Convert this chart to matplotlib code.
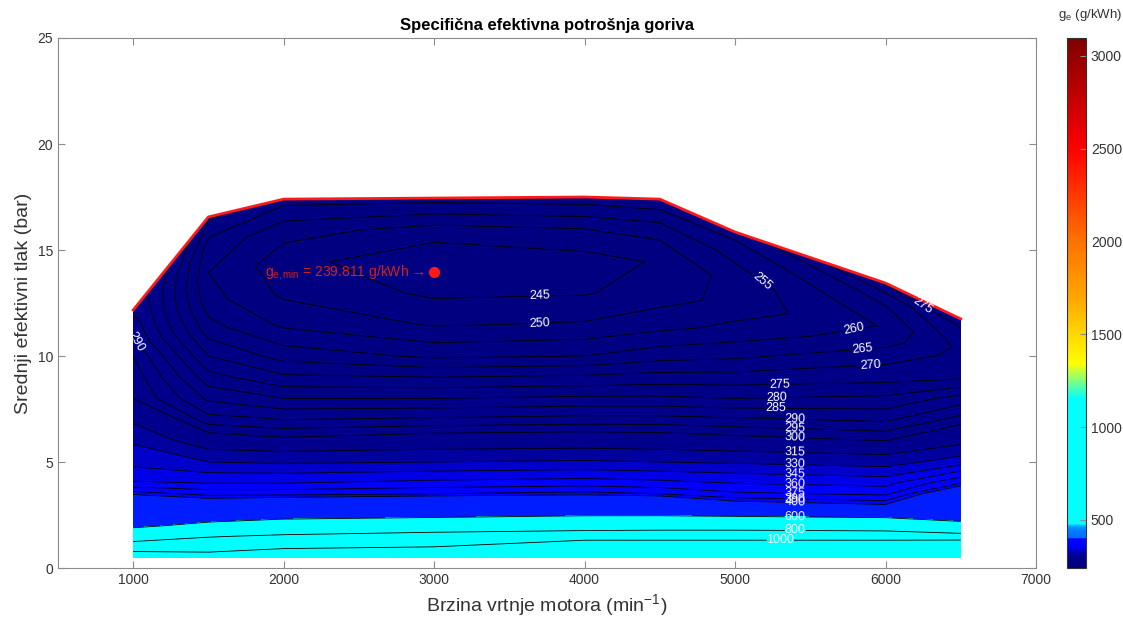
import numpy as np
import matplotlib.pyplot as plt
from matplotlib.colors import LinearSegmentedColormap, Normalize
from matplotlib.cm import ScalarMappable

plt.rcParams['font.family'] = ['Liberation Sans', 'DejaVu Sans']
plt.rcParams['mathtext.fontset'] = 'custom'
plt.rcParams['mathtext.rm'] = 'Liberation Sans'
plt.rcParams['mathtext.it'] = 'Liberation Sans:italic'

# brzine vrtnje (min^-1) i granica punog opterecenja (bar)
n = [1000, 1500, 2000, 3000, 4000, 4500, 5000, 6000, 6500]
pe_max = [12.17, 16.56, 17.4, 17.45, 17.5, 17.4, 15.85, 13.44, 11.75]

# redovi mreze: donji dio u baru, gornji kao udio izmedu 10 bar i pe_max
pe_donji = [0.5, 1, 1.5, 2, 2.5, 3, 3.5, 4, 5, 6, 7, 8, 9, 10]
udio_gornji = [0.2, 0.4, 0.6, 0.8, 1.0]

# specificna potrosnja ge (g/kWh) po stupcima brzine
ge_1000 = [1150, 880, 720, 570, 480, 430, 398, 362, 340, 328, 312, 300, 298, 295,
           292, 290, 288.5, 286, 283]
ge_1500 = [1100, 900, 790, 640, 520, 420, 385, 360, 330, 305, 292, 284, 277, 270,
           262, 257, 255, 258, 266]
ge_2000 = [1350, 930, 820, 680, 550, 430, 385, 360, 328, 302, 290, 280, 271, 263,
           254, 249, 247, 252, 262]
ge_3000 = [1900, 1000, 860, 700, 570, 440, 390, 365, 330, 305, 291, 280, 270, 259,
           249.5, 244, 240.5, 248, 262]
ge_4000 = [2400, 1200, 880, 730, 590, 450, 395, 368, 332, 306, 292, 281, 271, 260,
           250.5, 244.5, 243, 250, 263]
ge_4500 = [2600, 1200, 880, 740, 590, 440, 390, 365, 330, 305, 292, 281, 272, 263,
           253, 247.5, 245.5, 252, 264]
ge_5000 = [2800, 1200, 880, 740, 580, 410, 378, 360, 328, 303, 291, 280, 272, 264,
           257, 252, 252, 256, 262]
ge_6000 = [2900, 1200, 880, 720, 560, 400, 372, 355, 323, 300, 289, 281, 273, 268,
           263, 260.5, 263.5, 267, 276]
ge_6500 = [3097, 1250, 860, 640, 540, 480, 430, 390, 338, 310, 297, 287, 274, 271,
           271, 272.5, 274, 275.5, 278]

razine = [240, 245, 250, 255, 260, 265, 270, 275, 280, 285, 290, 295, 300,
          315, 330, 345, 360, 375, 390, 400, 600, 800, 1000]

n_min, pe_min, ge_min = 3000, 13.95, 239.811

ge = np.array([ge_1000, ge_1500, ge_2000, ge_3000, ge_4000, ge_4500,
               ge_5000, ge_6000, ge_6500]).T
P = np.vstack([np.tile(pe_donji, (len(n), 1)).T,
               10 + np.outer(udio_gornji, np.array(pe_max) - 10)])
N = np.tile(n, (P.shape[0], 1))

vmin, vmax = ge_min, ge.max()
sidra = [(200, (0, 0, 0.5)), (295, (0, 0, 0.55)), (300, (0, 0, 0.58)),
         (315, (0, 0, 0.63)), (330, (0, 0, 0.8)), (345, (0, 0, 0.95)),
         (360, (0, 0, 1)), (395, (0, 0, 1)), (400, (0, 0.42, 1)),
         (445, (0, 0.5, 1)), (465, (0, 0.65, 1)), (480, (0, 1, 1)),
         (1150, (0, 1, 1)), (1250, (0.5, 1, 0.5)), (1340, (1, 1, 0)),
         (1700, (1, 0.65, 0)), (2000, (1, 0.45, 0)), (2500, (1, 0, 0)),
         (3200, (0.5, 0, 0))]
cmap = LinearSegmentedColormap.from_list(
    'ge', [(min(max((v - vmin) / (vmax - vmin), 0), 1), c) for v, c in sidra], N=512)
norm = Normalize(vmin, vmax)

fig = plt.figure(figsize=(11.23, 6.28), dpi=100)
ax = fig.add_axes([0.0516, 0.0955, 0.8709, 0.844])

boje = [cmap(norm(r)) for r in razine]
ax.contourf(N, P, ge, levels=razine + [vmax + 1], colors=boje)
cs = ax.contour(N, P, ge, levels=razine, colors='k', linewidths=0.6)

oznake = [(1020, 10.7), (3700, 12.8), (3700, 11.4), (5150, 13.3), (5800, 11.0),
          (5850, 10.2), (5900, 9.5), (6250, 12.4), (5300, 8.5), (5280, 7.9),
          (5270, 7.4), (5400, 7.0), (5400, 6.6), (5400, 6.2), (5400, 5.5),
          (5400, 5.0), (5400, 4.5), (5400, 4.0), (5400, 3.6), (5400, 3.3),
          (5400, 3.0), (5400, 2.4), (5400, 1.8), (5300, 1.3)]
ax.clabel(cs, manual=oznake, fmt='%d', colors='w', fontsize=9, inline=True,
          inline_spacing=2)

ax.plot(n, pe_max, color='#ff1a1a', lw=2)
ax.plot(n_min, pe_min, 'o', color='#ff1a1a', ms=7)
ax.text(n_min - 60, pe_min, 'g$_{\\mathrm{e,min}}$ = %.3f g/kWh \u2192' % ge_min,
        ha='right', va='center', color='#d42020', fontsize=10)

ax.set_xlim(500, 7000)
ax.set_ylim(0, 25)
ax.set_xticks(range(1000, 7001, 1000))
ax.set_yticks(range(0, 26, 5))
ax.tick_params(direction='in', top=True, right=True, colors='#8c8c8c',
               labelcolor='#333333', labelsize=10, length=5)
for s in ax.spines.values():
    s.set_color('#8c8c8c')
ax.set_title('Specifična efektivna potrošnja goriva', fontsize=12,
             fontweight='bold', pad=6)
ax.set_xlabel('Brzina vrtnje motora (min$^{\\mathrm{-1}}$)', fontsize=14,
              color='#333333')
ax.set_ylabel('Srednji efektivni tlak (bar)', fontsize=14, color='#333333')

cax = fig.add_axes([0.950, 0.0955, 0.017, 0.844])
cb = fig.colorbar(ScalarMappable(norm=norm, cmap=cmap), cax=cax)
cb.set_ticks([500, 1000, 1500, 2000, 2500, 3000])
cax.tick_params(direction='in', colors='#8c8c8c', labelcolor='#333333',
                labelsize=10, length=4)
cb.outline.set_edgecolor('#333333')
fig.text(0.971, 0.963, 'g$_{\\mathrm{e}}$ (g/kWh)', ha='center', va='bottom',
         fontsize=9.5, color='#333333')

fig.savefig('out.png')
